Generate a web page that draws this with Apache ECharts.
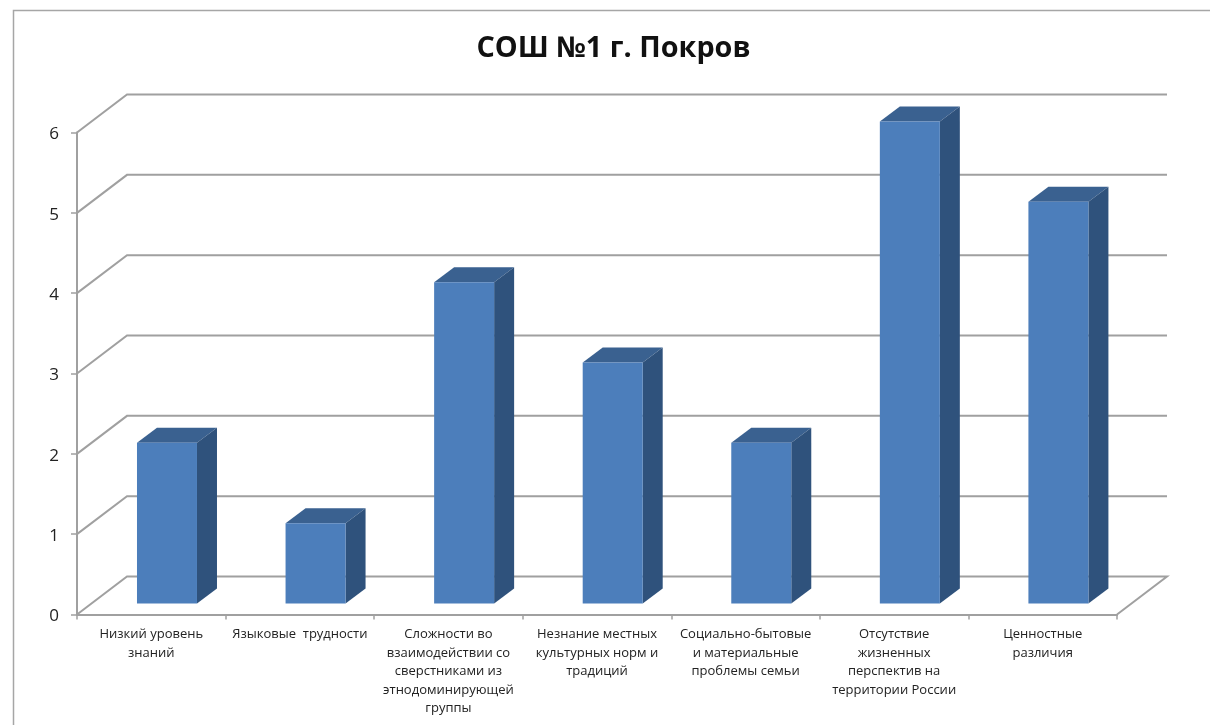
<!DOCTYPE html>
<html><head><meta charset="utf-8">
<style>html,body{margin:0;padding:0;background:#fff}#c{width:1210px;height:725px}</style>
<script src="https://cdn.jsdelivr.net/npm/echarts@6/dist/echarts.min.js"></script></head>
<body><div id="c"></div>
<script>
const titleText = 'СОШ №1 г. Покров';
const categories = [
  'Низкий уровень\nзнаний',
  'Языковые  трудности',
  'Сложности во\nвзаимодействии со\nсверстниками из\nэтнодоминирующей\nгруппы',
  'Незнание местных\nкультурных норм и\nтрадиций',
  'Социально-бытовые\nи материальные\nпроблемы семьи',
  'Отсутствие\nжизненных\nперспектив на\nтерритории России',
  'Ценностные\nразличия'
];
const values = [2, 1, 4, 3, 2, 6, 5];
const yTicks = [0, 1, 2, 3, 4, 5, 6];

const wallDX = 50, wallDY = 38, barHalf = 30, barShiftX = 15.7, barShiftY = 11, depthX = 20, depthY = 15;
const lineCol = '#a0a0a0';

const chart = echarts.init(document.getElementById('c'), null, {renderer: 'canvas'});
chart.setOption({
  animation: false,
  backgroundColor: '#fff',
  title: {
    text: titleText, left: 608.5, top: 29, textAlign: 'center',
    textStyle: {fontFamily: 'Open Sans', fontWeight: 'bold', fontSize: 28.8, color: '#111'}
  },
  graphic: [{
    type: 'rect', z: 0, silent: true,
    shape: {x: 13.5, y: 10.5, width: 1400, height: 1000},
    style: {fill: 'none', stroke: '#a6a6a6', lineWidth: 1.5}
  }],
  grid: {left: 77, right: 93, top: 132.5, bottom: 110.5},
  xAxis: {
    type: 'category', data: categories,
    axisLine: {lineStyle: {color: lineCol, width: 2}},
    axisTick: {show: true, length: 5, lineStyle: {color: lineCol, width: 1.5}},
    axisLabel: {
      interval: 0, margin: 11, lineHeight: 18.5, fontSize: 13,
      fontFamily: 'Open Sans', color: '#222', verticalAlign: 'top'
    }
  },
  yAxis: {
    type: 'value', min: 0, max: 6, interval: 1,
    axisLine: {show: true, lineStyle: {color: lineCol, width: 2}},
    axisTick: {show: true, length: 6, lineStyle: {color: lineCol, width: 1.5}},
    axisLabel: {
      margin: 18, formatter: '{a|{value}}',
      rich: {a: {fontSize: 17, fontFamily: 'Open Sans', color: '#222', padding: [4, 0, 0, 0]}}
    },
    splitLine: {show: false}
  },
  series: [{
    type: 'custom', name: 'walls', coordinateSystem: 'cartesian2d', z: 1, clip: false,
    data: yTicks.map(v => [0, v]),
    renderItem(params, api) {
      const cs = params.coordSys;
      const y = api.coord([0, api.value(1)])[1];
      const x0 = cs.x, x1 = cs.x + cs.width;
      const pts = [[x0, y], [x0 + wallDX, y - wallDY], [x1 + wallDX, y - wallDY]];
      if (api.value(1) === 0) pts.push([x1, y]);
      return {type: 'polyline', shape: {points: pts},
        style: {fill: 'none', stroke: lineCol, lineWidth: 2}};
    }
  }, {
    type: 'custom', name: 'СОШ №1 г. Покров', coordinateSystem: 'cartesian2d', z: 3, clip: false,
    data: values.map((v, i) => [i, v]),
    renderItem(params, api) {
      const top = api.coord([api.value(0), api.value(1)]);
      const base = api.coord([api.value(0), 0]);
      const l = top[0] + barShiftX - barHalf, r = top[0] + barShiftX + barHalf;
      const t = top[1] - barShiftY, b = base[1] - barShiftY;
      return {type: 'group', children: [
        {type: 'polygon', shape: {points: [[l, t], [l + depthX, t - depthY], [r + depthX, t - depthY], [r, t]]},
          style: {fill: '#3a6190'}},
        {type: 'polygon', shape: {points: [[r, t], [r + depthX, t - depthY], [r + depthX, b - depthY], [r, b]]},
          style: {fill: '#2f527c'}},
        {type: 'rect', shape: {x: l, y: t, width: r - l, height: b - t},
          style: {fill: '#4c7ebb'}}
      ]};
    }
  }]
});
</script></body></html>
